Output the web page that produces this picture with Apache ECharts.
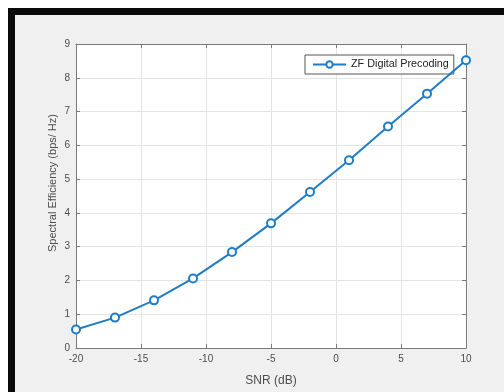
<!DOCTYPE html>
<html><head><meta charset="utf-8">
<script src="https://cdn.jsdelivr.net/npm/echarts@6/dist/echarts.min.js"></script>
<style>html,body{margin:0;padding:0;background:#fff}#c{width:504px;height:392px}</style>
</head><body><div id="c"></div>
<script>
const snr = [-20, -17, -14, -11, -8, -5, -2, 1, 4, 7, 10];
const zfDigital = [0.55, 0.9, 1.41, 2.06, 2.84, 3.69, 4.62, 5.56, 6.56, 7.53, 8.52];
const seriesName = 'ZF Digital Precoding';
const xTitle = 'SNR (dB)';
const yTitle = 'Spectral Efficiency (bps/ Hz)';

const chart = echarts.init(document.getElementById('c'), null, {renderer: 'canvas'});
const axisCol = '#7a7a7a';
const txtCol = '#4d4d4d';
const font = 'Liberation Sans, Arial, sans-serif';
const lineAx = {show: true, onZero: false, lineStyle: {color: axisCol, width: 1}};
const tickAx = {show: true, inside: true, length: 4, lineStyle: {color: axisCol}};
chart.setOption({
  backgroundColor: '#ffffff',
  animation: false,
  graphic: [
    {type: 'rect', z: -10, shape: {x: 11.5, y: 11.5, width: 600, height: 500},
     style: {fill: '#f0f0f0', stroke: '#0a0a0a', lineWidth: 7}},
    {type: 'text', z: 10, x: 53, y: 183, rotation: Math.PI / 2,
     style: {text: yTitle, fill: txtCol, font: '11px ' + font, textAlign: 'center', textVerticalAlign: 'middle'}}
  ],
  grid: {left: 76, right: 38, top: 44, bottom: 40, show: true, backgroundColor: '#ffffff', borderWidth: 0},
  legend: {
    data: [seriesName], left: 305, top: 55,
    backgroundColor: '#ffffff', borderColor: '#555', borderWidth: 1, borderRadius: 0,
    padding: [4, 5, 4, 7], itemWidth: 33, itemHeight: 8, itemGap: 5,
    textStyle: {fontSize: 10.8, color: '#222', fontFamily: font}
  },
  xAxis: [
    {type: 'value', min: -20, max: 10, interval: 5,
      axisLine: lineAx, axisTick: tickAx,
      splitLine: {show: true, lineStyle: {color: '#e4e4e4', width: 1}},
      name: xTitle, nameLocation: 'middle', nameGap: 27,
      nameTextStyle: {color: txtCol, fontSize: 12, fontFamily: font},
      axisLabel: {color: txtCol, fontSize: 10, fontFamily: font, margin: 6}},
    {type: 'value', position: 'top', min: -20, max: 10, interval: 5,
      axisLine: lineAx, axisTick: tickAx,
      axisLabel: {show: false}, splitLine: {show: false}}
  ],
  yAxis: [
    {type: 'value', min: 0, max: 9, interval: 1,
      axisLine: lineAx, axisTick: tickAx,
      splitLine: {show: true, lineStyle: {color: '#e4e4e4', width: 1}},
      axisLabel: {color: txtCol, fontSize: 10, fontFamily: font, margin: 6}},
    {type: 'value', position: 'right', min: 0, max: 9, interval: 1,
      axisLine: lineAx, axisTick: tickAx,
      axisLabel: {show: false}, splitLine: {show: false}}
  ],
  series: [{
    name: seriesName, type: 'line',
    data: snr.map((x, i) => [x, zfDigital[i]]),
    symbol: 'emptyCircle', symbolSize: 8,
    lineStyle: {color: '#1f7cc6', width: 2},
    itemStyle: {color: '#1f7cc6', borderWidth: 1.5},
    z: 5
  }]
});
</script></body></html>
